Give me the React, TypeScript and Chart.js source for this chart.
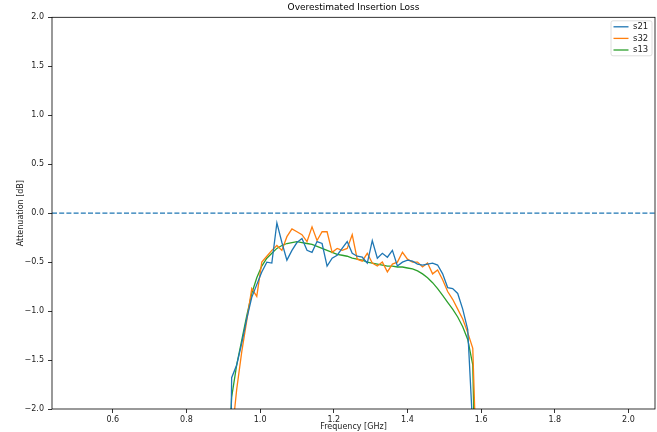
import React, { useEffect, useRef } from "react";
import { Chart, registerables } from "chart.js";

Chart.register(...registerables);

const TITLE = "Overestimated Insertion Loss";
const X_LABEL = "Frequency [GHz]";
const Y_LABEL = "Attenuation [dB]";

const X_MIN = 0.435;
const X_MAX = 2.072;
const Y_MIN = -2;
const Y_MAX = 2;

const freqs = [
  0.5, 0.9091, 0.9227, 0.9364, 0.95, 0.9636, 0.9773, 0.9909, 1.0045, 1.0182, 1.0318,
  1.0455, 1.0591, 1.0727, 1.0864, 1.1, 1.1136, 1.1273, 1.1409, 1.1545, 1.1682,
  1.1818, 1.1955, 1.2091, 1.2227, 1.2364, 1.25, 1.2636, 1.2773, 1.2909, 1.3045,
  1.3182, 1.3318, 1.3455, 1.3591, 1.3727, 1.3864, 1.4, 1.4136, 1.4273, 1.4409,
  1.4545, 1.4682, 1.4818, 1.4955, 1.5091, 1.5227, 1.5364, 1.55, 1.5636, 1.5773,
  1.5909, 2.0,
];

const s21 = [
  -30, -6.0, -1.68, -1.55, -1.33, -1.08, -0.86, -0.73, -0.6, -0.5, -0.51,
  -0.1, -0.3, -0.48, -0.38, -0.3, -0.26, -0.38, -0.4, -0.29, -0.31,
  -0.54, -0.46, -0.43, -0.36, -0.29, -0.41, -0.44, -0.45, -0.51, -0.28,
  -0.46, -0.41, -0.45, -0.38, -0.54, -0.5, -0.48, -0.49, -0.52, -0.53,
  -0.52, -0.51, -0.53, -0.62, -0.76, -0.77, -0.82, -0.98, -1.19, -2.2,
  -12, -30,
];

const s32 = [
  -30, -10, -2.3, -1.8, -1.42, -1.1, -0.77, -0.85, -0.5, -0.44, -0.38,
  -0.33, -0.38, -0.24, -0.16, -0.19, -0.22, -0.29, -0.14, -0.28, -0.19,
  -0.19, -0.4, -0.36, -0.38, -0.36, -0.22, -0.47, -0.49, -0.41, -0.51,
  -0.54, -0.5, -0.6, -0.52, -0.5, -0.4, -0.47, -0.5, -0.5, -0.55,
  -0.51, -0.62, -0.58, -0.68, -0.8, -0.88, -0.98, -1.08, -1.22, -1.38,
  -3.0, -30,
];

const s13 = [
  -30, -3.0, -1.88, -1.55, -1.3, -1.05, -0.82, -0.66, -0.54, -0.46, -0.41,
  -0.36, -0.33, -0.31, -0.3, -0.29, -0.3, -0.31, -0.32, -0.34, -0.36,
  -0.38, -0.4, -0.42, -0.43, -0.44, -0.46, -0.47, -0.48, -0.5, -0.51,
  -0.52, -0.53, -0.54, -0.54, -0.55, -0.55, -0.56, -0.57, -0.59, -0.62,
  -0.66, -0.71, -0.77, -0.84, -0.91, -0.98, -1.06, -1.16, -1.29, -1.55,
  -4.0, -30,
];

const refLineX = [X_MIN, X_MAX];
const refLineY = [0, 0];

const seriesNames = ["s21", "s32", "s13"];
const seriesColors = ["#1f77b4", "#ff7f0e", "#2ca02c"];
const seriesValues = [s21, s32, s13];

const FONT = "'DejaVu Sans', sans-serif";

const fmt = (v: number) => {
  const s = Math.abs(v).toFixed(1);
  return v < -1e-9 ? "\u2212" + s : s;
};

const framePlugin = {
  id: "frameAndLegend",
  afterDraw(chart: any) {
    const { ctx, chartArea: ca } = chart;
    ctx.save();
    ctx.strokeStyle = "#000";
    ctx.lineWidth = 0.8;
    ctx.strokeRect(ca.left, ca.top, ca.right - ca.left, ca.bottom - ca.top);

    // legend (matplotlib style, inside upper right)
    const w = 41;
    const h = 35;
    const lx = ca.right - w - 3;
    const ly = ca.top + 3.5;
    ctx.fillStyle = "rgba(255,255,255,0.8)";
    ctx.strokeStyle = "#d6d6d6";
    ctx.lineWidth = 0.8;
    ctx.beginPath();
    const r = 2;
    ctx.moveTo(lx + r, ly);
    ctx.lineTo(lx + w - r, ly);
    ctx.quadraticCurveTo(lx + w, ly, lx + w, ly + r);
    ctx.lineTo(lx + w, ly + h - r);
    ctx.quadraticCurveTo(lx + w, ly + h, lx + w - r, ly + h);
    ctx.lineTo(lx + r, ly + h);
    ctx.quadraticCurveTo(lx, ly + h, lx, ly + h - r);
    ctx.lineTo(lx, ly + r);
    ctx.quadraticCurveTo(lx, ly, lx + r, ly);
    ctx.closePath();
    ctx.fill();
    ctx.stroke();
    ctx.font = `8.5px ${FONT}`;
    ctx.textBaseline = "middle";
    ctx.textAlign = "left";
    seriesNames.forEach((name, i) => {
      const yy = ly + 6 + i * 11.6;
      ctx.strokeStyle = seriesColors[i];
      ctx.lineWidth = 1.3;
      ctx.beginPath();
      ctx.moveTo(lx + 2.5, yy);
      ctx.lineTo(lx + 17.5, yy);
      ctx.stroke();
      ctx.fillStyle = "#222";
      ctx.fillText(name, lx + 22, yy);
    });
    ctx.restore();
  },
};

export default function App() {
  const ref = useRef<HTMLCanvasElement | null>(null);

  useEffect(() => {
    if (!ref.current) return;
    const datasets: any[] = seriesNames.map((name, i) => ({
      label: name,
      data: freqs.map((f, j) => ({ x: f, y: seriesValues[i][j] })),
      borderColor: seriesColors[i],
      backgroundColor: seriesColors[i],
      borderWidth: 1.3,
      pointRadius: 0,
      tension: 0,
      fill: false,
    }));
    datasets.push({
      label: "ref",
      data: refLineX.map((x, j) => ({ x, y: refLineY[j] })),
      borderColor: "#1f77b4",
      borderWidth: 1.3,
      borderDash: [5, 2.2],
      pointRadius: 0,
      fill: false,
    });

    const chart = new Chart(ref.current, {
      type: "line",
      data: { datasets },
      options: {
        animation: false,
        responsive: false,
        devicePixelRatio: 1,
        layout: { padding: { left: 0, right: 2, top: 0, bottom: 0 } },
        plugins: {
          legend: { display: false },
          tooltip: { enabled: false },
          title: {
            display: true,
            text: TITLE,
            color: "#000",
            fullSize: false,
            font: { family: FONT, size: 9, weight: "normal" },
            padding: { top: 2.5, bottom: 4 },
          },
        },
        scales: {
          x: {
            type: "linear",
            min: X_MIN,
            max: X_MAX,
            afterFit: (s: any) => {
              s.height = 23;
            },
            border: { display: false },
            grid: {
              display: true,
              drawOnChartArea: false,
              drawTicks: true,
              tickLength: 4,
              tickColor: "#000",
              tickWidth: 0.8,
            },
            ticks: {
              stepSize: 0.2,
              includeBounds: false,
              maxRotation: 0,
              autoSkip: false,
              padding: 2,
              color: "#222",
              font: { family: FONT, size: 8 },
              callback: (v: any) => fmt(Number(v)),
            },
            title: {
              display: true,
              text: X_LABEL,
              color: "#222",
              font: { family: FONT, size: 8 },
              padding: { top: 0, bottom: 0 },
            },
          },
          y: {
            type: "linear",
            min: Y_MIN,
            max: Y_MAX,
            afterFit: (s: any) => {
              s.width = 52;
            },
            border: { display: false },
            grid: {
              display: true,
              drawOnChartArea: false,
              drawTicks: true,
              tickLength: 4,
              tickColor: "#000",
              tickWidth: 0.8,
            },
            ticks: {
              stepSize: 0.5,
              includeBounds: false,
              autoSkip: false,
              padding: 4,
              color: "#222",
              font: { family: FONT, size: 8 },
              callback: (v: any) => fmt(Number(v)),
            },
            title: {
              display: true,
              text: Y_LABEL,
              color: "#222",
              font: { family: FONT, size: 8 },
              padding: { top: 16, bottom: 0 },
            },
          },
        },
      },
      plugins: [framePlugin],
    } as any);
    return () => chart.destroy();
  }, []);

  return (
    <div style={{ position: "absolute", left: 0, top: 0, width: 657, height: 432, background: "#fff" }}>
      <canvas ref={ref} width={657} height={432} style={{ width: 657, height: 432, display: "block" }} />
    </div>
  );
}
